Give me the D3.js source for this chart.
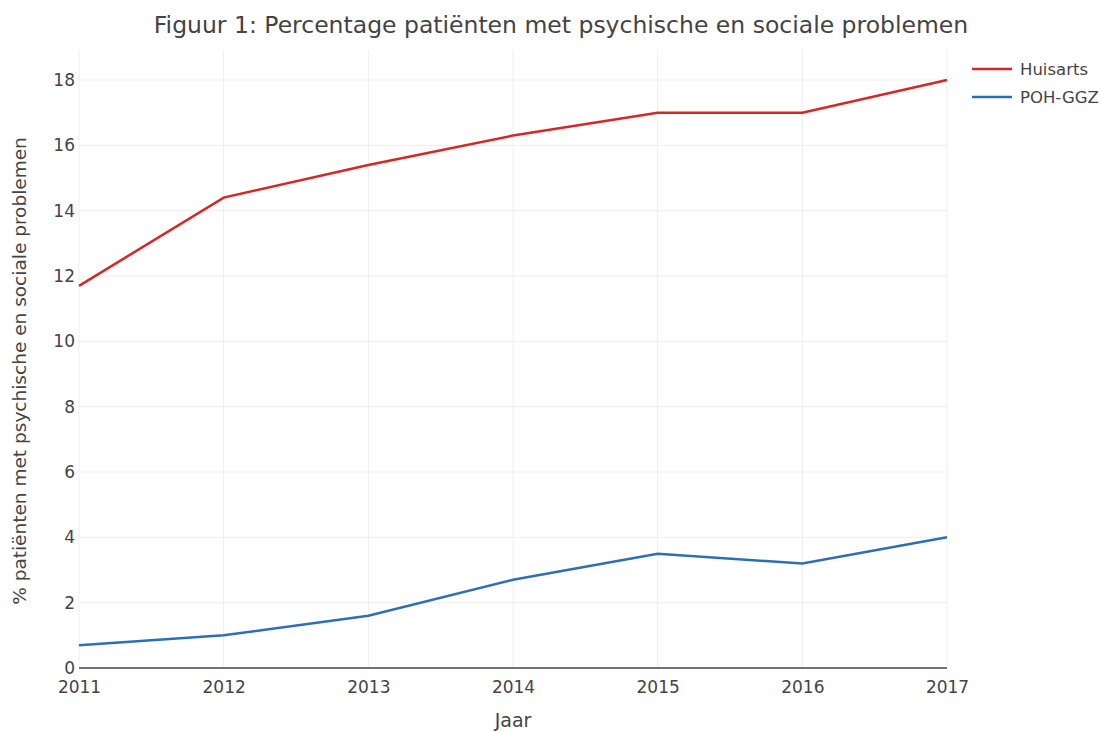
<!DOCTYPE html>
<html>
<head>
<meta charset="utf-8">
<script src="https://cdn.jsdelivr.net/npm/d3@7"></script>
<style>
  body { margin: 0; background: #fff; }
  svg text { font-family: "DejaVu Sans", Verdana, sans-serif; fill: #444; }
  .grid line { stroke: #eee; stroke-width: 1; }
  .line { fill: none; stroke-width: 2.5; }
</style>
</head>
<body>
<div id="chart"></div>
<script>
// data
var years = [2011, 2012, 2013, 2014, 2015, 2016, 2017];
var huisarts = [11.7, 14.4, 15.4, 16.3, 17.0, 17.0, 18.0];
var pohGgz = [0.7, 1.0, 1.6, 2.7, 3.5, 3.2, 4.0];
var yTicks = [0, 2, 4, 6, 8, 10, 12, 14, 16, 18];
var series = [
    {name: "Huisarts", values: huisarts, color: "#d62728"},
    {name: "POH-GGZ", values: pohGgz, color: "#2c6fb7"}
];

var width = 1101, height = 731;
var margin = {top: 50, right: 154, bottom: 63, left: 79};
var plotWidth = width - margin.left - margin.right;
var plotHeight = height - margin.top - margin.bottom;

var svg = d3.select('#chart').append('svg')
    .attr('width', width).attr('height', height);

var x = d3.scaleLinear().domain([2011, 2017]).range([0, plotWidth]);
var y = d3.scaleLinear().domain([0, 18.92]).range([plotHeight, 0]);

var plotArea = svg.append('g')
    .attr("transform", "translate(" + margin.left + "," + margin.top + ")");

// grade
var grid = plotArea.append('g').attr('class', 'grid');
grid.selectAll('.vg').data(years).enter().append('line')
    .attr('x1', function(d){ return x(d); }).attr('x2', function(d){ return x(d); })
    .attr('y1', 0).attr('y2', plotHeight);
grid.selectAll('.hg').data(yTicks.slice(1)).enter().append('line')
    .attr('x1', 0).attr('x2', plotWidth)
    .attr('y1', function(d){ return y(d); }).attr('y2', function(d){ return y(d); });

// eixos
var yAxis = plotArea.append('g')
    .call(d3.axisLeft(y).tickValues(yTicks).tickSize(0).tickPadding(4));
yAxis.select('.domain').remove();
yAxis.selectAll('text').style('font-size', '17px');

var xAxis = plotArea.append('g')
    .attr("transform", "translate(0," + plotHeight + ")")
    .call(d3.axisBottom(x).tickValues(years).tickFormat(d3.format('d')).tickSize(0).tickPadding(13));
xAxis.select('.domain').remove();
xAxis.selectAll('text').style('font-size', '17px');

// linha do zero
plotArea.append('line')
    .attr('x1', 0).attr('x2', plotWidth)
    .attr('y1', y(0)).attr('y2', y(0))
    .attr('stroke', '#444').attr('stroke-width', 1.3);

var line = d3.line()
    .x(function(d, i){ return x(years[i]); })
    .y(function(d){ return y(d); });

plotArea.selectAll('.line').data(series).enter().append('path')
    .attr('class', 'line')
    .attr('stroke', function(d){ return d.color; })
    .attr('d', function(d){ return line(d.values); });

// legenda
var legend = svg.append('g').attr('transform', 'translate(972,69)');
var items = legend.selectAll('g').data(series).enter().append('g')
    .attr('transform', function(d, i){ return 'translate(0,' + (i * 28) + ')'; });
items.append('line')
    .attr('x1', 0).attr('x2', 40).attr('y1', 0).attr('y2', 0)
    .attr('stroke', function(d){ return d.color; }).attr('stroke-width', 2.5);
items.append('text')
    .attr('x', 48).attr('dy', '0.35em')
    .style('font-size', '16.5px')
    .text(function(d){ return d.name; });

// titulos
svg.append('text')
    .attr('x', 561).attr('y', 33)
    .attr('text-anchor', 'middle')
    .style('font-size', '23.5px')
    .text('Figuur 1: Percentage patiënten met psychische en sociale problemen');

svg.append('text')
    .attr('x', margin.left + plotWidth / 2).attr('y', 727)
    .attr('text-anchor', 'middle')
    .style('font-size', '19px')
    .text('Jaar');

svg.append('text')
    .attr('transform', 'translate(26,' + (margin.top + plotHeight / 2 + 12) + ') rotate(-90)')
    .attr('text-anchor', 'middle')
    .style('font-size', '18.5px')
    .text('% patiënten met psychische en sociale problemen');
</script>
</body>
</html>
